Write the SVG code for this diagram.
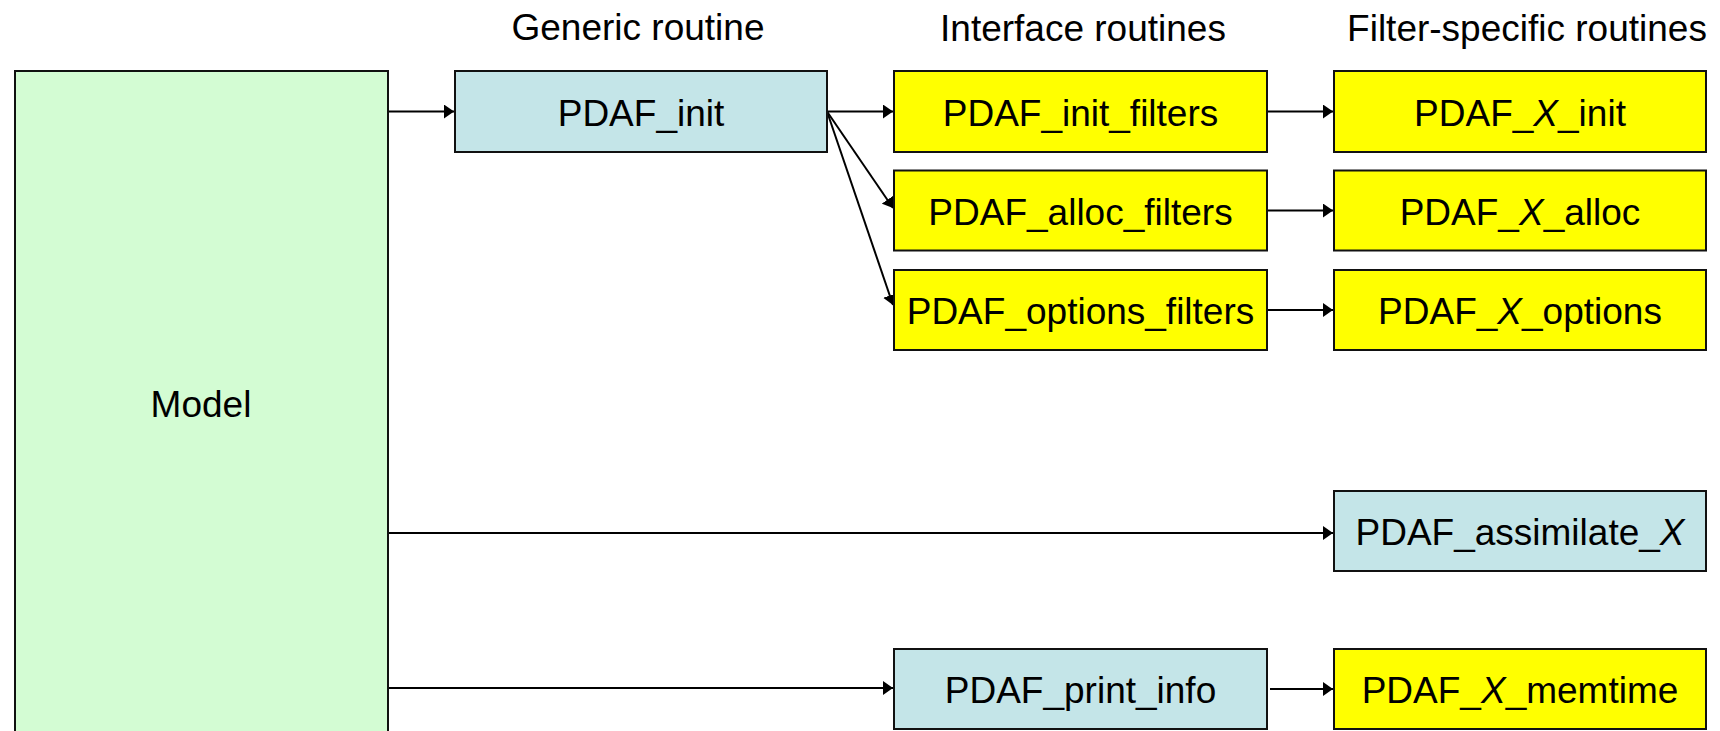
<svg xmlns="http://www.w3.org/2000/svg" width="1720" height="731" viewBox="0 0 1720 731">
<defs>
<style>
text{font-family:"Liberation Sans",Arial,sans-serif;font-size:37px;fill:#000;text-anchor:middle}
.box{stroke:#111;stroke-width:2}
.green{fill:#D3FCD3}
.blue{fill:#C4E5E8}
.yellow{fill:#FFFF00}
.conn{stroke:#000;stroke-width:2;fill:none;marker-end:url(#arr)}
.it{font-style:italic}
</style>
<marker id="arr" viewBox="0 0 10 14" refX="10" refY="7" markerWidth="10" markerHeight="14" markerUnits="userSpaceOnUse" orient="auto">
<path d="M0,0 L10,7 L0,14 Z" fill="#000"/>
</marker>
</defs>
<rect width="1720" height="731" fill="#fff"/>
<g id="headers">
<text x="638" y="40">Generic routine</text>
<text x="1083" y="41">Interface routines</text>
<text x="1527" y="41">Filter-specific routines</text>
</g>
<g id="connectors">
<line class="conn" x1="389" y1="111.5" x2="454" y2="111.5"/>
<line class="conn" x1="827" y1="111.5" x2="893" y2="111.5"/>
<line class="conn" x1="827" y1="111.5" x2="893" y2="208"/>
<line class="conn" x1="827" y1="111.5" x2="893" y2="305"/>
<line class="conn" x1="1268" y1="111.5" x2="1333" y2="111.5"/>
<line class="conn" x1="1268" y1="210.5" x2="1333" y2="210.5"/>
<line class="conn" x1="1268" y1="310" x2="1333" y2="310"/>
<line class="conn" x1="389" y1="533" x2="1333" y2="533"/>
<line class="conn" x1="389" y1="688" x2="893" y2="688"/>
<line class="conn" x1="1270" y1="689" x2="1333" y2="689"/>
</g>
<g id="model">
<rect class="box green" x="15" y="71" width="373" height="700"/>
<text x="201" y="417">Model</text>
</g>
<g id="pdaf_init">
<rect class="box blue" x="455" y="71" width="372" height="81"/>
<text x="641" y="126">PDAF_init</text>
</g>
<g id="pdaf_init_filters">
<rect class="box yellow" x="894" y="71" width="373" height="81"/>
<text x="1080.5" y="126">PDAF_init_filters</text>
</g>
<g id="pdaf_alloc_filters">
<rect class="box yellow" x="894" y="170.5" width="373" height="80"/>
<text x="1080.5" y="225">PDAF_alloc_filters</text>
</g>
<g id="pdaf_options_filters">
<rect class="box yellow" x="894" y="270" width="373" height="80"/>
<text x="1080.5" y="324">PDAF_options_filters</text>
</g>
<g id="pdaf_x_init">
<rect class="box yellow" x="1334" y="71" width="372" height="81"/>
<text x="1520" y="126">PDAF_<tspan class="it">X</tspan>_init</text>
</g>
<g id="pdaf_x_alloc">
<rect class="box yellow" x="1334" y="170.5" width="372" height="80"/>
<text x="1520" y="225">PDAF_<tspan class="it">X</tspan>_alloc</text>
</g>
<g id="pdaf_x_options">
<rect class="box yellow" x="1334" y="270" width="372" height="80"/>
<text x="1520" y="324">PDAF_<tspan class="it">X</tspan>_options</text>
</g>
<g id="pdaf_assimilate_x">
<rect class="box blue" x="1334" y="491" width="372" height="80"/>
<text x="1520" y="545">PDAF_assimilate_<tspan class="it">X</tspan></text>
</g>
<g id="pdaf_print_info">
<rect class="box blue" x="894" y="649" width="373" height="80"/>
<text x="1080.5" y="703">PDAF_print_info</text>
</g>
<g id="pdaf_x_memtime">
<rect class="box yellow" x="1334" y="649" width="372" height="80"/>
<text x="1520" y="703">PDAF_<tspan class="it">X</tspan>_memtime</text>
</g>
</svg>
